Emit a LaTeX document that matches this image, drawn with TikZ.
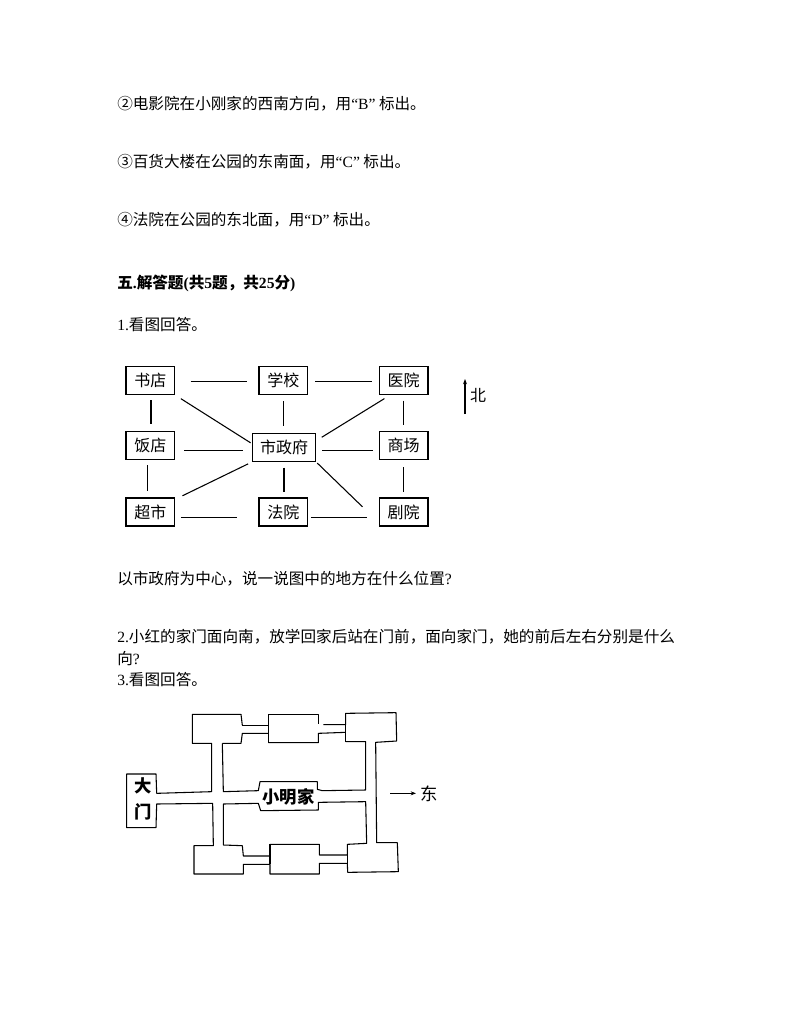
\documentclass[tikz,border=0pt]{standalone}
\usepackage{fontspec}
\setmainfont{Noto Sans CJK SC}
\newfontfamily\lat{Liberation Serif}
\usetikzlibrary{arrows.meta}
\tikzset{
  textline/.style={anchor=west, inner sep=0pt, font=\fontsize{11.7}{13}\selectfont},
  place/.style={draw, line width=0.9pt, minimum width=36.5pt, minimum height=21pt, inner sep=0pt, font=\fontsize{12}{13}\selectfont},
  link/.style={line width=0.8pt},
  wall/.style={line width=0.8pt, line join=round},
  plan/.style={inner sep=0pt, font=\fontsize{13}{14}\selectfont\bfseries}
}
\begin{document}
\begin{tikzpicture}[x=0.75pt, y=-0.75pt, >={Stealth[length=4pt, width=3pt]}]
	\useasboundingbox (0,0) rectangle (794,1028);
	% text lines
	\node[textline] (lineb) at (117,104) {②电影院在小刚家的西南方向，用{\lat “B”} 标出。};
	\node[textline] (linec) at (117,162) {③百货大楼在公园的东南面，用{\lat “C”} 标出。};
	\node[textline] (lined) at (117,220) {④法院在公园的东北面，用{\lat “D”} 标出。};
	\node[textline, font=\fontsize{11.7}{13}\selectfont\bfseries] (title) at (117,283) {五{\lat .}解答题{\lat (}共{\lat 5}题，共{\lat 25}分{\lat )}};
	\node[textline] (qone) at (117,325) {{\lat 1.}看图回答。};
	\node[textline] (qask) at (117,579) {以市政府为中心，说一说图中的地方在什么位置{\lat ?}};
	\node[textline] (qtwo) at (117,637) {{\lat 2.}小红的家门面向南，放学回家后站在门前，面向家门，她的前后左右分别是什么};
	\node[textline] (qtwob) at (117,659) {向{\lat ?}};
	\node[textline] (qthree) at (117,680) {{\lat 3.}看图回答。};
	% map around the city hall
	\node[place] (shudian) at (150.3,380.5) {书店};
	\node[place] (xuexiao) at (283.3,380.5) {学校};
	\node[place] (yiyuan) at (403.7,380.5) {医院};
	\node[place] (fandian) at (150.3,445.5) {饭店};
	\node[place, minimum width=47.5pt] (shizhengfu) at (284,447.5) {市政府};
	\node[place] (shangchang) at (403.7,445.5) {商场};
	\node[place] (chaoshi) at (150.3,512) {超市};
	\node[place] (fayuan) at (283.3,512) {法院};
	\node[place] (juyuan) at (403.7,512) {剧院};
	\draw[link, shorten <=11.5pt, shorten >=8.7pt] ([yshift=-1pt]shudian.east) -- ([yshift=-1pt]xuexiao.west);
	\draw[link, shorten <=5.2pt, shorten >=5.2pt] ([yshift=-1pt]xuexiao.east) -- ([yshift=-1pt]yiyuan.west);
	\draw[link, shorten <=6.7pt, shorten >=6.2pt] ([yshift=-3.4pt]fandian.east) -- ([yshift=-3.4pt]fandian.east -| shizhengfu.west);
	\draw[link, shorten <=4.5pt, shorten >=4.2pt] ([yshift=-3.4pt]shizhengfu.east |- shangchang.east) -- ([yshift=-3.4pt]shangchang.west);
	\draw[link, shorten <=4.2pt, shorten >=16pt] ([yshift=-4.4pt]chaoshi.east) -- ([yshift=-4.4pt]fayuan.west);
	\draw[link, shorten <=2pt, shorten >=8.5pt] ([yshift=-4.4pt]fayuan.east) -- ([yshift=-4.4pt]juyuan.west);
	\draw[link, shorten <=3.7pt, shorten >=5pt] ([xshift=0.5pt]shudian.south) -- ([xshift=0.5pt]fandian.north);
	\draw[link, shorten <=3.7pt, shorten >=5pt] ([xshift=-2pt]fandian.south) -- ([xshift=-2pt]chaoshi.north);
	\draw[link, shorten <=4.5pt, shorten >=5.2pt] (xuexiao.south) -- (xuexiao.south |- shizhengfu.north);
	\draw[link, shorten <=4.2pt, shorten >=3.7pt] (shizhengfu.south) -- (shizhengfu.south |- fayuan.north);
	\draw[link, shorten <=4.2pt, shorten >=4.5pt] (yiyuan.south) -- (shangchang.north);
	\draw[link, shorten <=5.2pt, shorten >=3.7pt] (shangchang.south) -- (juyuan.north);
	\draw[link, shorten <=5pt, shorten >=1pt] (shudian.south east) -- (shizhengfu.173);
	\draw[link, shorten <=5pt, shorten >=4.8pt] (yiyuan.227) -- (shizhengfu.12);
	\draw[link, shorten <=6pt, shorten >=3pt] (chaoshi.27) -- (shizhengfu.south west);
	\draw[link, shorten <=17pt, shorten >=1pt] (juyuan.203) -- (shizhengfu.south east);
	\coordinate (northend) at (465,414);
	\coordinate (northtip) at (465,379);
	\draw[link, ->] (northend) -- (northtip);
	\node[inner sep=0pt, font=\fontsize{12}{13}\selectfont] (bei) at (478,395) {北};
	% plan of the park
	\begin{scope}[shift={(110,700)}, x=0.25pt, y=-0.25pt]
		\draw[wall] (397,76) -- (393,43) -- (247,43) -- (247,130) -- (305,130) -- (305,275) -- (140,280) -- (138,222) -- (50,222) -- (50,383) -- (138,383) -- (140,312) -- (308,310) -- (310,437) -- (252,437) -- (252,522) -- (400,522) -- (400,493) -- (480,493) -- (480,522) -- (628,522) -- (628,490) -- (712,490) -- (713,517) -- (865,515) -- (862,428) -- (800,428) -- (797,127) -- (860,123) -- (858,38) -- (707,40) -- (707,74) -- (640,74);
		\draw[wall] (397,76) -- (475,76) -- (475,43) -- (625,43) -- (625,72);
		\draw[wall] (475,76) -- (475,128);
		\draw[wall] (707,74) -- (707,125);
		\draw[wall] (480,433) -- (480,493);
		\draw[wall] (712,433) -- (712,490);
		\draw[wall] (337,130) -- (393,130) -- (397,100) -- (475,100);
		\draw[wall] (475,128) -- (625,128) -- (625,100) -- (707,97);
		\draw[wall] (707,125) -- (767,125) -- (767,270) -- (637,272) -- (622,268) -- (622,245) -- (450,245) -- (445,272) -- (340,275) -- (337,130);
		\draw[wall] (340,312) -- (445,310) -- (452,332) -- (625,330) -- (625,307) -- (767,305) -- (770,430) -- (712,433) -- (712,465) -- (628,465) -- (628,433) -- (480,433) -- (480,468) -- (400,468) -- (397,437) -- (340,435) -- cycle;
		\node[plan] (damen) at (98,258) {大};
		\node[plan] (damenb) at (98,337) {门};
		\node[plan] (xiaoming) at (535,290) {小明家};
		\coordinate (eaststart) at (840,280);
		\coordinate (eastend) at (918,280);
		\draw[link, ->] (eaststart) -- (eastend);
		\node[plan, font=\fontsize{13}{14}\selectfont] (dong) at (958,280) {东};
	\end{scope}
\end{tikzpicture}
\end{document}
